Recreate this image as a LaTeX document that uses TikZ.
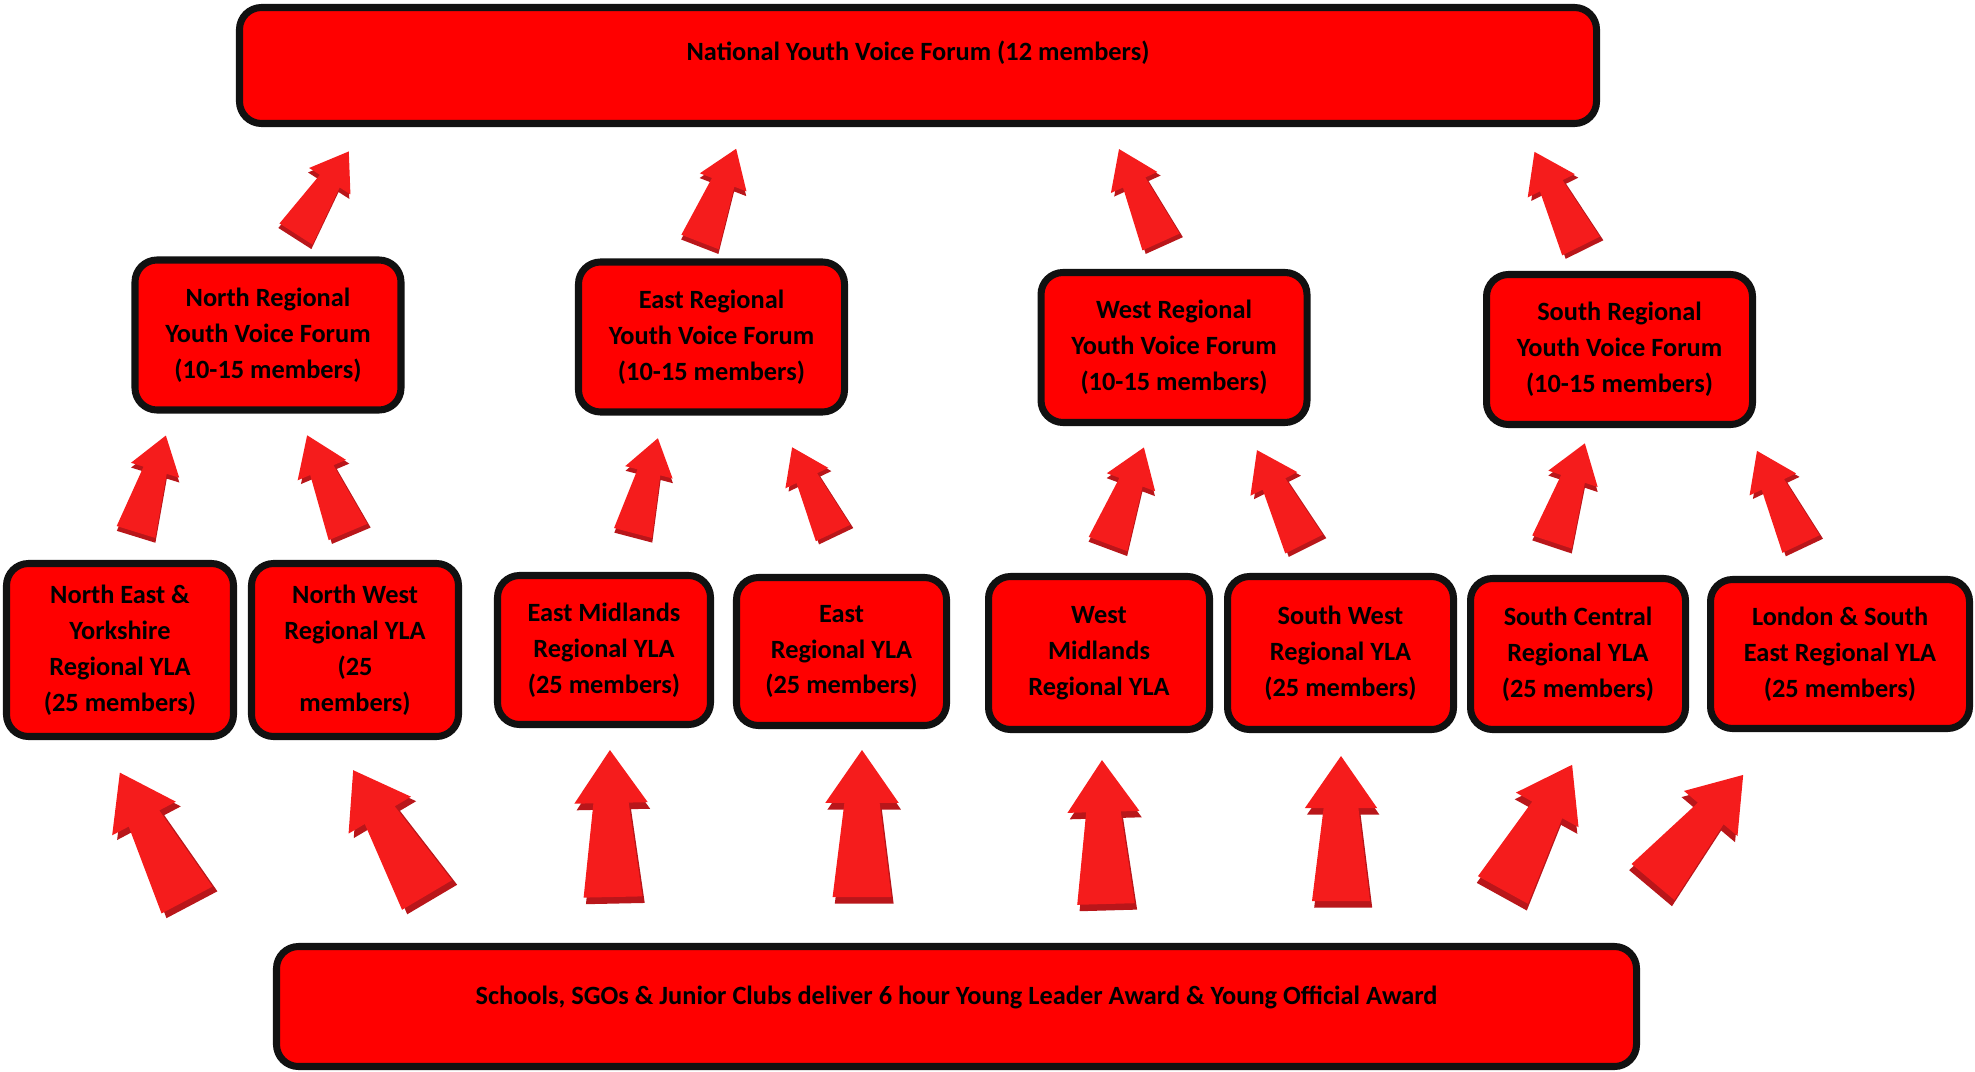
\documentclass[tikz,border=0pt]{standalone}
\usepackage{fontspec}
\setmainfont{Carlito}
\usepackage{tikz}

\definecolor{boxred}{RGB}{255,0,0}
\definecolor{arrface}{RGB}{245,28,28}
\definecolor{arrside}{RGB}{185,22,26}
\definecolor{rim}{RGB}{17,17,17}

\tikzset{
  redbox/.style={draw=rim,fill=boxred,line width=2pt,rounded corners=0.22cm,
    align=center,inner sep=0pt,font=\bfseries\fontsize{7.5}{10.2}\selectfont},
  forum/.style={redbox,minimum width=2.66cm,minimum height=1.5cm},
  blockarrow/.pic={
    \fill[arrside,shift={(0.015,-0.045)}] (-0.2,0) -- (-0.12,0.64) -- (-0.25,0.64) -- (0,1)
      -- (0.25,0.64) -- (0.12,0.64) -- (0.2,0) -- cycle;
    \fill[arrface] (-0.2,0) -- (-0.12,0.64) -- (-0.25,0.64) -- (0,1)
      -- (0.25,0.64) -- (0.12,0.64) -- (0.2,0) -- cycle;
  }
}

\begin{document}
\begin{tikzpicture}
  \useasboundingbox (0,0) rectangle (19.75,-10.71);

  \node[redbox,minimum width=13.57cm,minimum height=1.16cm,text depth=0.3cm] (nat) at (9.18,-0.655)
    {National Youth Voice Forum (12 members)};

  \node[forum] (fnorth) at (2.68,-3.35) {North Regional\\Youth Voice Forum\\(10-15 members)};
  \node[forum] (feast) at (7.115,-3.37) {East Regional\\Youth Voice Forum\\(10-15 members)};
  \node[forum] (fwest) at (11.74,-3.475) {West Regional\\Youth Voice Forum\\(10-15 members)};
  \node[forum] (fsouth) at (16.195,-3.495) {South Regional\\Youth Voice Forum\\(10-15 members)};

  \node[redbox,minimum width=2.27cm,minimum height=1.73cm] (ne) at (1.20,-6.50)
    {North East \&\\Yorkshire\\Regional YLA\\(25 members)};
  \node[redbox,minimum width=2.07cm,minimum height=1.73cm] (nw) at (3.55,-6.50)
    {North West\\Regional YLA\\(25\\members)};
  \node[redbox,minimum width=2.13cm,minimum height=1.49cm] (em) at (6.04,-6.50)
    {East Midlands\\Regional YLA\\(25 members)};
  \node[redbox,minimum width=2.10cm,minimum height=1.48cm] (ey) at (8.415,-6.515)
    {East\\Regional YLA\\(25 members)};
  \node[redbox,minimum width=2.21cm,minimum height=1.53cm] (wm) at (10.99,-6.53)
    {West\\Midlands\\Regional YLA};
  \node[redbox,minimum width=2.26cm,minimum height=1.53cm] (sw) at (13.405,-6.53)
    {South West\\Regional YLA\\(25 members)};
  \node[redbox,minimum width=2.15cm,minimum height=1.51cm] (sc) at (15.78,-6.54)
    {South Central\\Regional YLA\\(25 members)};
  \node[redbox,minimum width=2.59cm,minimum height=1.49cm] (lse) at (18.40,-6.54)
    {London \& South\\East Regional YLA\\(25 members)};

  \node[redbox,minimum width=13.6cm,minimum height=1.2cm,text depth=0.22cm] (schools) at (9.565,-10.065)
    {Schools, SGOs \& Junior Clubs deliver 6 hour Young Leader Award \& Young Official Award};

  % forums up to the national forum
  \pic[rotate=-32.6,scale=0.98] at (2.96,-2.34) {blockarrow};
  \pic[rotate=-21.2] at (7.00,-2.42) {blockarrow};
  \pic[rotate=24.3,scale=1.02] at (11.61,-2.42) {blockarrow};
  \pic[rotate=26.3,scale=1.05] at (15.81,-2.46) {blockarrow};

  % YLAs up to the regional forums
  \pic[rotate=-17.2,scale=1.01] at (1.36,-5.32) {blockarrow};
  \pic[rotate=22.9,scale=1.05] at (3.48,-5.32) {blockarrow};
  \pic[rotate=-14.7,scale=0.98] at (6.33,-5.33) {blockarrow};
  \pic[rotate=25.5,scale=0.95] at (8.33,-5.33) {blockarrow};
  \pic[rotate=-20.4,scale=1.03] at (11.08,-5.44) {blockarrow};
  \pic[rotate=26.6,scale=1.05] at (13.04,-5.44) {blockarrow};
  \pic[rotate=-18.4,scale=1.04] at (15.52,-5.42) {blockarrow};
  \pic[rotate=25.3,scale=1.03] at (18.01,-5.44) {blockarrow};

  % schools up to the YLAs
  \pic[rotate=27.8,scale=1.44] at (1.87,-9.00) {blockarrow};
  \pic[rotate=30.6,scale=1.45] at (4.27,-8.95) {blockarrow};
  \pic[rotate=1.2,scale=1.47] at (6.13,-8.97) {blockarrow};
  \pic[scale=1.47] at (8.62,-8.97) {blockarrow};
  \pic[rotate=1.6,scale=1.44] at (11.06,-9.04) {blockarrow};
  \pic[scale=1.45] at (13.41,-9.01) {blockarrow};
  \pic[rotate=-28.9,scale=1.43] at (15.03,-8.90) {blockarrow};
  \pic[rotate=-40.1,scale=1.40] at (16.53,-8.82) {blockarrow};
\end{tikzpicture}
\end{document}
